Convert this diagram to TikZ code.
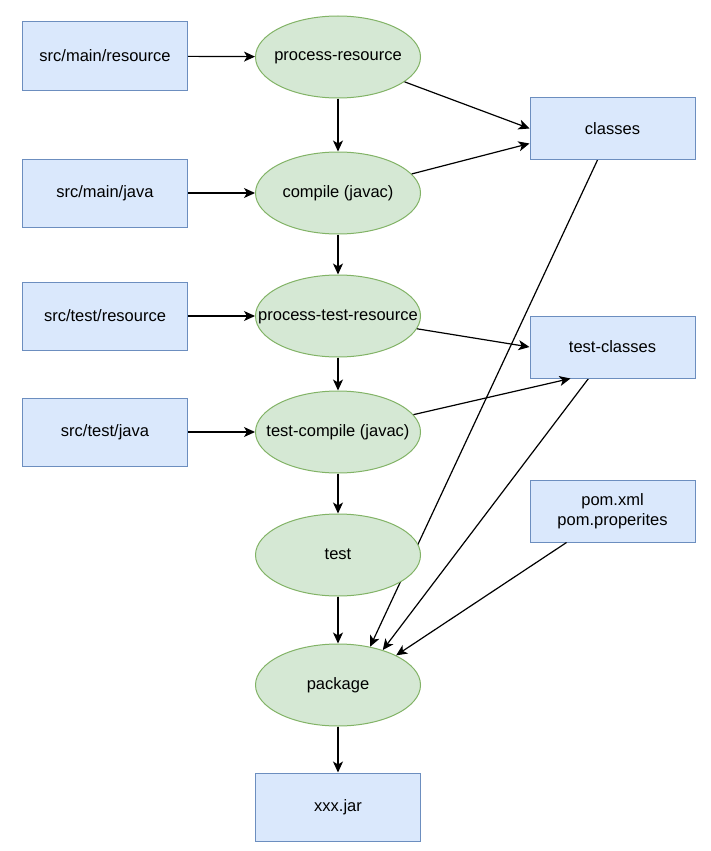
\documentclass[tikz,border=0pt]{standalone}
\usepackage{fontspec}
\setmainfont{Liberation Sans}
\usetikzlibrary{arrows.meta,calc,shapes.geometric}
\definecolor{boxfill}{HTML}{DAE8FC}
\definecolor{boxline}{HTML}{6C8EBF}
\definecolor{ellfill}{HTML}{D5E8D4}
\definecolor{ellline}{HTML}{82B366}
\pgfdeclarelayer{paper}
\pgfdeclarelayer{behind}
\pgfsetlayers{paper,behind,main}
\begin{document}
\begin{tikzpicture}[x=1pt,y=-1pt,
  lbl/.style={font=\fontsize{16.5}{19.5}\selectfont, align=center, inner sep=0pt},
  box/.style={lbl, draw=boxline, fill=boxfill, line width=1pt, minimum width=165pt, minimum height=68pt},
  rbox/.style={box, minimum height=62pt},
  proc/.style={lbl, ellipse, draw=ellline, fill=ellfill, line width=1pt, minimum width=165pt, minimum height=82pt, text height=9pt, text depth=1pt},
  arr/.style={draw=black, line width=1.2pt, -{Stealth[length=11pt,width=10pt,inset=3pt]}}
]
\begin{pgfonlayer}{paper}
\fill[white] (0,0) rectangle (710,851);
\end{pgfonlayer}
\useasboundingbox (0,0) rectangle (710,851);

% left inputs
\node[box] (smr) at (105,56) {src/main/resource};
\node[box] (smj) at (105,193) {src/main/java};
\node[box] (str) at (105,316) {src/test/resource};
\node[box] (stj) at (105,432) {src/test/java};

% lifecycle phases
\node[proc] (pr) at (338,57) {\makebox[0pt]{process-resource}};
\node[proc] (comp) at (338,193) {\makebox[0pt]{compile (javac)}};
\node[proc] (ptr) at (338,316) {\makebox[0pt]{process-test-resource}};
\node[proc] (tcomp) at (338,432) {\makebox[0pt]{test-compile (javac)}};
\node[proc] (test) at (338,555) {\makebox[0pt]{test}};
\node[proc] (pkg) at (338,685) {\makebox[0pt]{package}};
\node[box] (jar) at (338,807) {xxx.jar};

% right outputs
\node[rbox] (classes) at (612.5,128.5) {classes};
\node[rbox] (tclasses) at (612.5,347) {test-classes};
\node[rbox] (pom) at (612.5,511) {pom.xml\\pom.properites};

% inputs
\draw[arr] (smr) -- (pr);
\draw[arr] (smj) -- (comp);
\draw[arr] (str) -- (ptr);
\draw[arr] (stj) -- (tcomp);

% chain
\draw[arr] (pr) -- (comp);
\draw[arr] (comp) -- (ptr);
\draw[arr] (ptr) -- (tcomp);
\draw[arr] (tcomp) -- (test);
\draw[arr] (test) -- (pkg);
\draw[arr] (pkg) -- (jar);

% outputs
\draw[arr] (pr) -- (classes.west);
\draw[arr] (comp) -- ([yshift=-15pt]classes.west);
\draw[arr] (ptr) -- (tclasses.west);
\draw[arr] (tcomp) -- ([xshift=-42pt]tclasses.south);

% into package (behind the phase ellipses)
\begin{pgfonlayer}{behind}
\draw[arr] ([xshift=-15pt]classes.south) -- (pkg.50);
\draw[arr] ([xshift=-24pt]tclasses.south) -- (pkg.38);
\end{pgfonlayer}
\draw[arr] ([xshift=-46pt]pom.south) -- (pkg.27);
\end{tikzpicture}
\end{document}
